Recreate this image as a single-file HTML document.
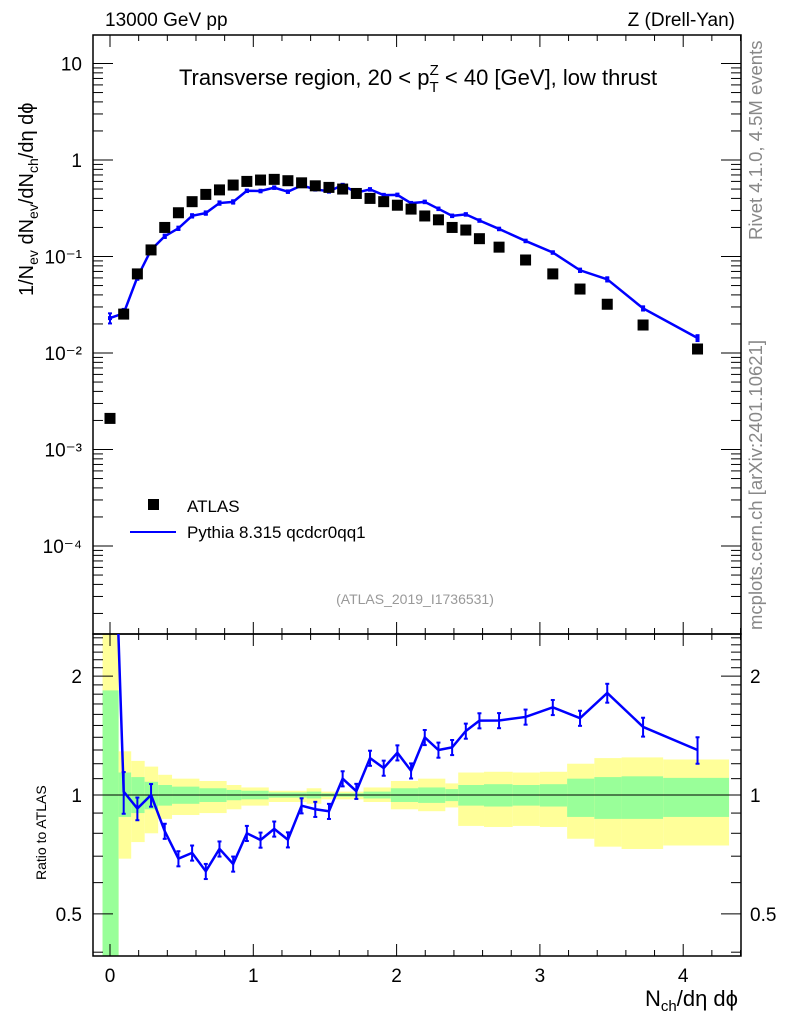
<!DOCTYPE html>
<html><head><meta charset="utf-8"><style>
body{margin:0;background:#fff;}
svg{display:block;font-family:"Liberation Sans",sans-serif;}
</style></head><body>
<svg id="c" width="786" height="1024" viewBox="0 0 786 1024" xmlns="http://www.w3.org/2000/svg">
<text x="105" y="26" font-size="19">13000 GeV pp</text>
<text x="735" y="26" font-size="19" text-anchor="end">Z (Drell-Yan)</text>
<text x="418" y="85" font-size="22" text-anchor="middle">Transverse region, 20 &lt; p<tspan font-size="15" dy="7">T</tspan><tspan font-size="15" dx="-9" dy="-17">Z</tspan><tspan dy="10"> &lt; 40 [GeV], low thrust</tspan></text>
<text transform="translate(762,240) rotate(-90)" font-size="18.5" fill="#888">Rivet 4.1.0,  4.5M events</text>
<text transform="translate(762,630) rotate(-90)" font-size="18.5" fill="#888">mcplots.cern.ch [arXiv:2401.10621]</text>
<text x="415" y="604" font-size="14" fill="#999" text-anchor="middle">(ATLAS_2019_I1736531)</text>
<text transform="translate(33,296) rotate(-90)" font-size="20">1/N<tspan font-size="14" dy="5">ev</tspan><tspan dy="-5"> dN</tspan><tspan font-size="14" dy="5">ev</tspan><tspan dy="-5">/dN</tspan><tspan font-size="14" dy="5">ch</tspan><tspan dy="-5">/dη dϕ</tspan></text>
<text transform="translate(46,880) rotate(-90)" font-size="14">Ratio to ATLAS</text>
<text x="738" y="1006" font-size="22" text-anchor="end">N<tspan font-size="15" dy="5">ch</tspan><tspan dy="-5">/dη dϕ</tspan></text>
<g>
<rect x="148" y="499" width="11" height="11" fill="#000"/>
<text x="187" y="512" font-size="17">ATLAS</text>
<line x1="130" y1="532" x2="176" y2="532" stroke="#00f" stroke-width="2"/>
<text x="187" y="538" font-size="17">Pythia 8.315 qcdcr0qq1</text>
</g>
<g id="g"></g>
</svg>
<script>
const xVals=[0,0.0955,0.191,0.2865,0.382,0.4775,0.573,0.6685,0.764,0.8595,0.955,1.0505,1.146,1.2415,1.337,1.4325,1.528,1.6235,1.719,1.8145,1.91,2.0055,2.101,2.1965,2.292,2.3875,2.483,2.578,2.715,2.90,3.09,3.28,3.47,3.72,4.10];
const atlasVals=[0.0021,0.0253,0.066,0.117,0.20,0.284,0.37,0.44,0.49,0.55,0.60,0.62,0.63,0.61,0.58,0.54,0.52,0.50,0.45,0.40,0.37,0.34,0.31,0.263,0.24,0.20,0.188,0.153,0.125,0.092,0.066,0.046,0.032,0.0195,0.011];
const mcVals=[0.023,0.0258,0.061,0.117,0.162,0.196,0.264,0.282,0.358,0.368,0.48,0.477,0.517,0.47,0.545,0.497,0.473,0.55,0.46,0.496,0.433,0.435,0.357,0.368,0.312,0.264,0.273,0.236,0.193,0.145,0.110,0.072,0.058,0.029,0.0143];
const mcRelErr=[0.12,0.11,0.06,0.06,0.04,0.04,0.04,0.04,0.04,0.04,0.03,0.03,0.03,0.03,0.03,0.03,0.03,0.03,0.03,0.03,0.03,0.03,0.03,0.03,0.03,0.03,0.03,0.03,0.03,0.03,0.03,0.04,0.05,0.05,0.07];
const bandEdges=[-0.052,0.06,0.148,0.242,0.336,0.433,0.624,0.814,0.917,1.108,1.372,1.475,1.769,1.96,2.15,2.34,2.43,2.61,2.81,3.0,3.19,3.38,3.57,3.86,4.32];
const yellowUp=[3,1.29,1.22,1.18,1.125,1.10,1.085,1.06,1.045,1.025,1.04,1.02,1.045,1.085,1.10,1.07,1.14,1.145,1.14,1.145,1.20,1.24,1.245,1.23];
const yellowLo=[0.3,0.69,0.76,0.80,0.87,0.89,0.90,0.92,0.94,0.96,0.95,0.975,0.96,0.92,0.91,0.93,0.835,0.83,0.835,0.83,0.775,0.74,0.73,0.745];
const greenUp=[1.84,1.14,1.11,1.08,1.06,1.05,1.04,1.03,1.025,1.015,1.02,1.01,1.02,1.04,1.045,1.035,1.06,1.065,1.06,1.065,1.10,1.11,1.115,1.105];
const greenLo=[0.3,0.88,0.90,0.92,0.94,0.95,0.96,0.97,0.975,0.985,0.98,0.99,0.98,0.96,0.955,0.965,0.94,0.935,0.94,0.935,0.88,0.87,0.87,0.88];
const xTickLabels=["0","1","2","3","4"];
const yTickLabels=["10","1","10⁻¹","10⁻²","10⁻³","10⁻⁴"];
const ratioTickLabels=["2","1","0.5"];

const L=93,R=741,T=35,MB=634,RB=956;
const X=v=>110+v*143.3;
const Y=v=>160-Math.log10(v)*96.5;
const RY=v=>795-Math.log10(v)*395;
const g=document.getElementById('g');
const NS="http://www.w3.org/2000/svg";
function mk(tag,at,parent){const e=document.createElementNS(NS,tag);for(const k in at)e.setAttribute(k,at[k]);(parent||g).appendChild(e);return e;}
function cl(v,a,b){return Math.max(a,Math.min(b,v));}

const bands=mk('g',{});


for(let i=0;i<yellowUp.length;i++){
  const x1=X(bandEdges[i]),x2=X(bandEdges[i+1]);
  const ry=mk('rect',{x:x1,y:cl(RY(yellowUp[i]),MB,RB),width:x2-x1,fill:'#ffff99'},bands);
  ry.setAttribute('height',cl(RY(yellowLo[i]),MB,RB)-cl(RY(yellowUp[i]),MB,RB));
  
  
  const rg=mk('rect',{x:x1,y:cl(RY(greenUp[i]),MB,RB),width:x2-x1,fill:'#99ff99'},bands);
  rg.setAttribute('height',cl(RY(greenLo[i]),MB,RB)-cl(RY(greenUp[i]),MB,RB));
  
  
}
const one=mk('line',{x1:L,x2:R,y1:RY(1),y2:RY(1),stroke:'#000','stroke-width':1});



for(const [t,b,n] of [[T,MB,'main-frame'],[MB,RB,'ratio-frame']]){
  const f=mk('rect',{x:L,y:t,width:R-L,height:b-t,fill:'none',stroke:'#000','stroke-width':1.5});
  
  
}
const tk=mk('g',{stroke:'#000','stroke-width':1});


for(let v=-0.2;v<=4.41;v+=0.2){
  const vv=Math.round(v*10)/10,px=X(vv);if(px<L||px>R)continue;
  const maj=Math.abs(vv-Math.round(vv))<1e-6, len=maj?12:6;
  for(const [t,b] of [[T,MB],[MB,RB]]){
    mk('line',{x1:px,x2:px,y1:t,y2:t+len},tk);mk('line',{x1:px,x2:px,y1:b,y2:b-len},tk);
  }
}
xTickLabels.forEach((s,i)=>{const t=mk('text',{x:X(i),y:982,'font-size':19,'text-anchor':'middle'});t.textContent=s;

});
for(let d=-5;d<=1;d++){for(let m=1;m<10;m++){const v=m*Math.pow(10,d);const py=Y(v);if(py<T||py>MB)continue;
 const len=m==1?20:10;mk('line',{x1:L,x2:L+len,y1:py,y2:py},tk);mk('line',{x1:R,x2:R-len,y1:py,y2:py},tk);}}
yTickLabels.forEach((s,i)=>{const t=mk('text',{x:82,y:Y(Math.pow(10,1-i))+7,'font-size':19,'text-anchor':'end'});t.textContent=s;

});
for(let k=4;k<=25;k++){const v=k/10,py=RY(v);if(py<MB||py>RB)continue;const maj=(k==5||k==10||k==20);const len=maj?20:10;
 mk('line',{x1:L,x2:L+len,y1:py,y2:py},tk);mk('line',{x1:R,x2:R-len,y1:py,y2:py},tk);}
[2,1,0.5].forEach((v,i)=>{for(const [x,a] of [[82,'end'],[750,'start']]){const t=mk('text',{x:x,y:RY(v)+7,'font-size':19,'text-anchor':a});t.textContent=ratioTickLabels[i];

}});

const defs=mk('defs',{});
const c1=mk('clipPath',{id:'cm'},defs);mk('rect',{x:L,y:T,width:R-L,height:MB-T},c1);
const c2=mk('clipPath',{id:'cr'},defs);mk('rect',{x:L,y:MB,width:R-L,height:RB-MB},c2);
const mc=mk('g',{'clip-path':'url(#cm)',stroke:'#00f',fill:'#00f'});


mk('polyline',{points:xVals.map((x,i)=>X(x)+','+Y(mcVals[i])).join(' '),fill:'none','stroke-width':2.5},mc);
xVals.forEach((x,i)=>{const px=X(x),y1=Y(mcVals[i]*(1+mcRelErr[i])),y2=Y(mcVals[i]*(1-mcRelErr[i]));
 mk('line',{x1:px,x2:px,y1:y1,y2:y2,'stroke-width':2},mc);mk('line',{x1:px-2,x2:px+2,y1:y1,y2:y1,'stroke-width':2},mc);mk('line',{x1:px-2,x2:px+2,y1:y2,y2:y2,'stroke-width':2},mc);
 const p=mk('rect',{x:px-2,y:Y(mcVals[i])-2,width:4,height:4,stroke:'none'},mc);
 
 });
const da=mk('g',{});


xVals.forEach((x,i)=>{const r=mk('rect',{x:X(x)-5.5,y:Y(atlasVals[i])-5.5,width:11,height:11,fill:'#000'},da);
 
 });
const rr=mk('g',{'clip-path':'url(#cr)',stroke:'#00f',fill:'#00f'});


const ratios=xVals.map((x,i)=>mcVals[i]/atlasVals[i]);
mk('polyline',{points:xVals.map((x,i)=>X(x)+','+RY(ratios[i])).join(' '),fill:'none','stroke-width':2.5},rr);
xVals.forEach((x,i)=>{const px=X(x),e=Math.max(mcRelErr[i],0.04)*1.1,y1=RY(ratios[i]*(1+e)),y2=RY(ratios[i]*(1-e));
 mk('line',{x1:px,x2:px,y1:y1,y2:y2,'stroke-width':2},rr);mk('line',{x1:px-2,x2:px+2,y1:y1,y2:y1,'stroke-width':2},rr);mk('line',{x1:px-2,x2:px+2,y1:y2,y2:y2,'stroke-width':2},rr);});
</script>
</body></html>
